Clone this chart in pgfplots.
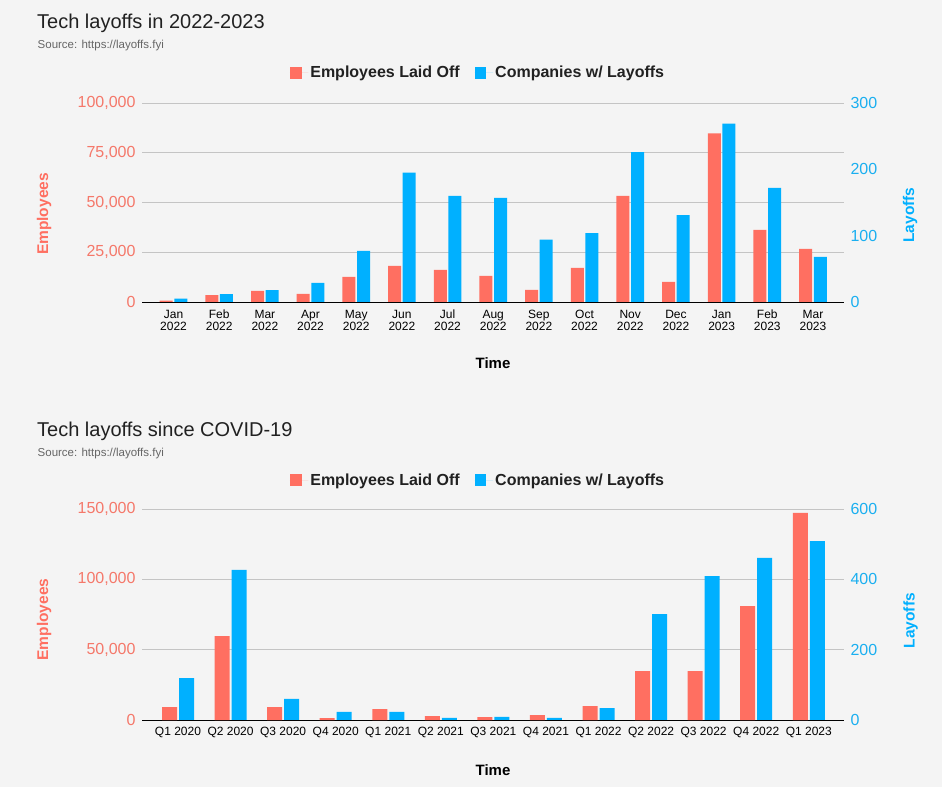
\documentclass[border=0pt]{standalone}
\usepackage{pgfplots}
\pgfplotsset{compat=1.18}
\usepackage{fontspec}
\setmainfont{Liberation Sans}
\definecolor{redc}{HTML}{FF6F61}
\definecolor{bluec}{HTML}{00B0FF}
\definecolor{redt}{HTML}{F5786A}
\definecolor{bluet}{HTML}{1AAFF0}
\definecolor{bg}{HTML}{F4F4F4}
\definecolor{gridc}{HTML}{C4C4C4}
\definecolor{titlec}{HTML}{212121}
\definecolor{srcc}{HTML}{666666}
\pgfplotsset{
  base/.style={
    scale only axis, width=702pt,
    major tick length=0pt,
    /pgf/number format/fixed,
    /pgf/number format/precision=0,
    /pgf/number format/assume math mode=true,
    /pgf/number format/1000 sep={,},
    scaled y ticks=false,
    y axis line style={draw=none},
  },
  leftax/.style={
    base,
    axis x line*=bottom, axis y line*=left,
    x axis line style={black, line width=0.9pt, -},
    ymajorgrids, grid style={gridc, line width=0.8pt},
    yticklabel style={font=\fontsize{16}{16}\selectfont, color=redt, xshift=-3pt},
    xticklabel style={align=center, font=\fontsize{12}{12.5}\selectfont, text=black},
    ylabel={Employees}, xlabel={Time},
    legend style={draw=none, fill=none, font=\bfseries\fontsize{16}{16}\selectfont, text=titlec, legend columns=2, /tikz/every even column/.append style={column sep=13pt}},
    legend image code/.code={\fill[##1] (0pt,-5.8pt) rectangle (11.7pt,5.8pt); \path (0pt,0pt) -- (18.5pt,0pt);},
  },
  rightax/.style={
    base,
    axis x line=none, axis y line*=right,
    yticklabel style={font=\fontsize{16}{16}\selectfont, color=bluet, xshift=3pt},
    ylabel={Layoffs},
  },
}
\begin{document}
\begin{tikzpicture}
\fill[bg] (0pt,0pt) rectangle (942pt,787pt);
\useasboundingbox (0pt,0pt) rectangle (942pt,787pt);
\node[anchor=base west, inner sep=0pt, text=titlec, font=\fontsize{20}{20}\selectfont] at (37pt,758.3pt) {Tech layoffs in 2022-2023};
\node[anchor=base west, inner sep=0pt, text=srcc, font=\fontsize{11.5}{12}\selectfont] at (37.5pt,738pt) {Source: https://layoffs.fyi};
\node[anchor=base west, inner sep=0pt, text=titlec, font=\fontsize{20}{20}\selectfont] at (37pt,350.3pt) {Tech layoffs since COVID-19};
\node[anchor=base west, inner sep=0pt, text=srcc, font=\fontsize{11.5}{12}\selectfont] at (37.5pt,330pt) {Source: https://layoffs.fyi};

% ---------- top chart ----------
\begin{axis}[leftax,
  at={(142pt,485pt)}, anchor=south west, height=199pt,
  xmin=-0.69, xmax=14.68, ymin=0, ymax=100000,
  ytick={0,25000,50000,75000,100000},
  xtick={0,...,14},
  xticklabels={{\strut Jan\\2022},{\strut Feb\\2022},{\strut Mar\\2022},{\strut Apr\\2022},{\strut May\\2022},{\strut Jun\\2022},{\strut Jul\\2022},{\strut Aug\\2022},{\strut Sep\\2022},{\strut Oct\\2022},{\strut Nov\\2022},{\strut Dec\\2022},{\strut Jan\\2023},{\strut Feb\\2023},{\strut Mar\\2023}},
  xticklabel style={yshift=-4pt},
  every axis x label/.style={at={(axis description cs:0.5,-0.3065)}, anchor=center, font=\bfseries\fontsize{15}{15}\selectfont},
  every axis y label/.style={at={(axis description cs:-0.1396,0.442)}, anchor=center, rotate=90, font=\bfseries\fontsize{15.5}{16}\selectfont, color=redc},
  legend style={at={(axis description cs:0.4786,1.151)}, anchor=center},
]
\addplot[ybar, bar width=13pt, bar shift=-7.3pt, fill=redc, draw=none] coordinates {
(0,670) (1,3500) (2,5540) (3,4030) (4,12580) (5,18100) (6,16100) (7,13090) (8,6040) (9,17100) (10,53360) (11,10070) (12,84730) (13,36240) (14,26680)};
\addlegendentry{Employees Laid Off}
\addlegendimage{fill=bluec, draw=none}
\addlegendentry{Companies w/ Layoffs}
\end{axis}
\begin{axis}[rightax,
  at={(142pt,485pt)}, anchor=south west, height=199pt,
  xmin=-0.69, xmax=14.68, ymin=0, ymax=300,
  ytick={0,100,200,300},
  every axis y label/.style={at={(axis description cs:1.094,0.437)}, anchor=center, rotate=90, font=\bfseries\fontsize{15.5}{16}\selectfont, color=bluec},
]
\addplot[ybar, bar width=13pt, bar shift=7.3pt, fill=bluec, draw=none] coordinates {
(0,5) (1,12) (2,18) (3,29) (4,77) (5,195) (6,160) (7,157) (8,94) (9,104) (10,226) (11,131) (12,269) (13,172) (14,68)};
\end{axis}

% ---------- bottom chart ----------
\begin{axis}[leftax,
  at={(142pt,67pt)}, anchor=south west, height=211pt,
  xmin=-0.685, xmax=12.67, ymin=0, ymax=150000,
  ytick={0,50000,100000,150000},
  xtick={0,...,12},
  xticklabels={Q1 2020,Q2 2020,Q3 2020,Q4 2020,Q1 2021,Q2 2021,Q3 2021,Q4 2021,Q1 2022,Q2 2022,Q3 2022,Q4 2022,Q1 2023},
  xticklabel style={yshift=-4pt},
  every axis x label/.style={at={(axis description cs:0.5,-0.237)}, anchor=center, font=\bfseries\fontsize{15}{15}\selectfont},
  every axis y label/.style={at={(axis description cs:-0.1396,0.476)}, anchor=center, rotate=90, font=\bfseries\fontsize{15.5}{16}\selectfont, color=redc},
  legend style={at={(axis description cs:0.4786,1.137)}, anchor=center},
]
\addplot[ybar, bar width=15pt, bar shift=-8.5pt, fill=redc, draw=none] coordinates {
(0,9240) (1,59700) (2,9240) (3,1420) (4,7820) (5,2840) (6,2130) (7,3550) (8,9950) (9,34830) (10,34830) (11,81040) (12,147160)};
\addlegendentry{Employees Laid Off}
\addlegendimage{fill=bluec, draw=none}
\addlegendentry{Companies w/ Layoffs}
\end{axis}
\begin{axis}[rightax,
  at={(142pt,67pt)}, anchor=south west, height=211pt,
  xmin=-0.685, xmax=12.67, ymin=0, ymax=600,
  ytick={0,200,400,600},
  every axis y label/.style={at={(axis description cs:1.095,0.471)}, anchor=center, rotate=90, font=\bfseries\fontsize{15.5}{16}\selectfont, color=bluec},
]
\addplot[ybar, bar width=15pt, bar shift=8.5pt, fill=bluec, draw=none] coordinates {
(0,119) (1,427) (2,60) (3,23) (4,23) (5,6) (6,9) (7,6) (8,34) (9,301) (10,409) (11,461) (12,509)};
\end{axis}
\end{tikzpicture}
\end{document}
